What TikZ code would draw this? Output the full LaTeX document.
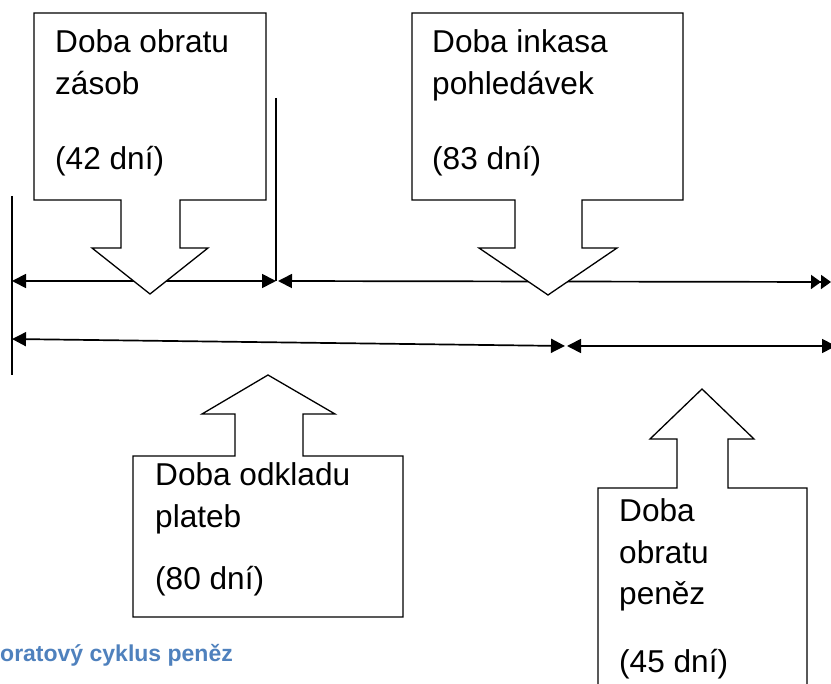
\documentclass[tikz,border=0pt]{standalone}
\usepackage{fontspec}
\setmainfont{Liberation Sans}
\usetikzlibrary{arrows.meta}
\definecolor{capblue}{RGB}{79,129,189}

\begin{document}
\begin{tikzpicture}[x=1pt,y=-1pt,
  box/.style={line width=1.3pt,fill=white},
  dim/.style={line width=1.7pt,{Triangle[length=14pt,width=14pt]}-{Triangle[length=14pt,width=14pt]}},
  lbl/.style={anchor=base west,inner sep=0pt,align=left,font=\fontsize{31.6}{42}\selectfont}]
  \useasboundingbox (0,0) rectangle (831,684);
  % time axis
  \coordinate (a0) at (12,281);
  \coordinate (a1) at (276,281);
  \coordinate (a2) at (278,281);
  \coordinate (a3) at (831,282);
  \coordinate (b0) at (12,339);
  \coordinate (b1) at (565,346);
  \coordinate (b2) at (567,346);
  \coordinate (b3) at (836,346);
  \draw[line width=1.3pt] (12,196) -- (12,375);
  \draw[line width=1.3pt] (276,98) -- (a1);
  \draw[dim] (a0) -- (a1);
  \draw[line width=1.7pt,{Triangle[length=14pt,width=14pt]}-{Triangle[length=10pt,width=14pt]Triangle[length=10pt,width=14pt]}] (a2) -- (a3);
  \draw[dim] (b0) -- (b1);
  \draw[dim] (b2) -- (b3);
  % callouts
  \draw[box] (34,13) -- (266,13) -- (266,200) -- (180,200) -- (180,248) -- (208,248) -- (150,294)
    -- (92,248) -- (121,248) -- (121,200) -- (34,200) -- cycle;
  \draw[box] (412,13) -- (683,13) -- (683,200) -- (582,200) -- (582,248) -- (617,248) -- (548,295)
    -- (479,248) -- (515,248) -- (515,200) -- (412,200) -- cycle;
  \draw[box] (133,456) -- (235,456) -- (235,414) -- (202,414) -- (268,375) -- (335,414) -- (303,414)
    -- (303,456) -- (403,456) -- (403,617) -- (133,617) -- cycle;
  \draw[box] (598,690) -- (598,488) -- (677,488) -- (677,439) -- (650,439) -- (702,389) -- (754,439)
    -- (728,439) -- (728,488) -- (807,488) -- (807,690);
  % texts (base = last line)
  \node[lbl] (zasob) at (55,170) {Doba obratu\\zásob\\[33pt](42 dní)};
  \node[lbl] (inkaso) at (432,170) {Doba inkasa\\pohledávek\\[33pt](83 dní)};
  \node[lbl] (odklad) at (155,590) {Doba odkladu\\plateb\\[20pt](80 dní)};
  \node[lbl] (penize) at (619,673) {Doba\\obratu\\peněz\\[26pt](45 dní)};
  \node[anchor=base west,inner sep=0pt,text=capblue,font=\bfseries\fontsize{23}{28}\selectfont] (titul) at (0,662) {oratový cyklus peněz};
\end{tikzpicture}
\end{document}
